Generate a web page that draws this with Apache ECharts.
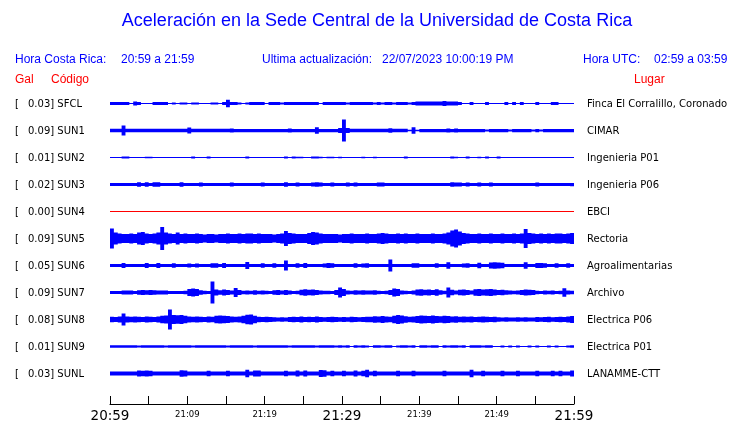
<!DOCTYPE html>
<html><head><meta charset="utf-8">
<script src="https://cdn.jsdelivr.net/npm/echarts@6/dist/echarts.min.js"></script>
<style>html,body{margin:0;padding:0;background:#fff}#c{width:740px;height:423px}</style>
</head><body><div id="c"></div>
<script>
// ---------- data ----------
const titleText = 'Aceleración en la Sede Central de la Universidad de Costa Rica';
const localRange = '20:59 a 21:59';
const utcRange = '02:59 a 03:59';
const lastUpdate = '22/07/2023 10:00:19 PM';

const stations = ['SFCL','SUN1','SUN2','SUN3','SUN4','SUN5','SUN6','SUN7','SUN8','SUN9','SUNL'];
const places = ['Finca El Corralillo, Coronado','CIMAR','Ingenieria P01','Ingenieria P06','EBCI','Rectoria','Agroalimentarias','Archivo','Electrica P06','Electrica P01','LANAMME-CTT'];
const peakGal = [0.03,0.09,0.01,0.02,0.00,0.09,0.05,0.09,0.08,0.01,0.03];
const inactiveStations = ['SUN4'];

// half-amplitude envelopes, milligal, one value per 30 s bin (120 bins = 60 min)
const binMinutes = 0.5;
const sfcl = [12,12,12,12,12, 4,16,12,4,4, 4,12,12,12,12, 4,8,4,8,8, 4,8,8,4,4, 4,8,8,4,12, 30,12,12,8,4, 8,12,12,12,12, 4,12,12,12,8, 12,12,12,12,12, 12,12,12,12,4, 12,12,12,12,12, 12,8,12,12,12, 12,12,12,8,12, 8,12,12,8,12, 12,12,8,12,16, 16,16,16,16,16, 16,20,16,16,16, 12,4,4,12,4, 4,4,12,4,4, 4,4,12,4,12, 4,12,4,4,4, 12,4,4,4,12, 12,4,4,4,4];
const sun1 = [14,14,14,40,14, 14,14,14,14,14, 14,14,14,14,14, 14,14,14,14,14, 24,14,14,14,14, 14,14,14,14,14, 14,16,13,13,13, 13,13,13,13,13, 13,13,13,13,13, 13,16,13,13,13, 13,13,13,26,13, 13,13,13,13,20, 88,20,14,14,14, 14,14,14,14,14, 14,14,18,14,14, 14,14,6,26,6, 13,13,13,13,13, 13,13,16,13,16, 13,13,13,13,13, 13,13,8,13,13, 13,13,13,8,13, 13,13,13,13,8, 13,8,13,13,13, 13,13,13,13,13];
const sun2 = [4,4,4,8,8, 4,4,4,4,6, 6,4,4,4,4, 4,4,4,4,4, 4,8,4,4,4, 8,4,4,4,4, 4,4,4,4,4, 8,4,4,4,4, 4,4,4,4,4, 8,4,8,6,6, 4,4,8,8,6, 4,6,6,4,6, 4,4,4,4,4, 6,4,4,6,4, 4,4,4,4,4, 4,8,4,4,4, 4,4,4,4,4, 4,4,4,8,6, 4,4,8,4,4, 6,4,8,4,4, 8,4,4,4,4, 4,4,4,4,4, 4,4,4,4,4, 4,4,4,4,4];
const sun3 = [12,12,12,12,12, 12,12,18,12,18, 12,18,18,12,12, 12,12,12,18,12, 12,12,12,16,12, 12,12,12,12,12, 12,16,12,12,12, 12,12,12,12,16, 12,12,12,12,12, 18,12,12,16,12, 12,12,16,18,16, 12,12,16,12,12, 12,16,12,16,12, 12,12,12,12,16, 16,12,12,12,12, 12,12,12,12,12, 12,12,12,12,12, 12,12,12,18,16, 16,12,16,12,12, 16,12,12,16,12, 12,12,12,12,12, 12,12,12,12,12, 16,12,12,12,12, 12,12,12,12,13];
const sun4 = [0,0,0,0,0,0,0,0,0,0, 0,0,0,0,0,0,0,0,0,0, 0,0,0,0,0,0,0,0,0,0, 0,0,0,0,0,0,0,0,0,0, 0,0,0,0,0,0,0,0,0,0, 0,0,0,0,0,0,0,0,0,0, 0,0,0,0,0,0,0,0,0,0, 0,0,0,0,0,0,0,0,0,0, 0,0,0,0,0,0,0,0,0,0, 0,0,0,0,0,0,0,0,0,0, 0,0,0,0,0,0,0,0,0,0, 0,0,0,0,0,0,0,0,0,0];
const sun5 = [80,48,40,36,36, 40,36,48,52,40, 36,40,48,92,48, 40,36,48,36,40, 36,36,40,36,32, 36,36,32,36,36, 40,36,36,40,36, 40,40,36,40,36, 36,36,32,36,40, 60,44,40,36,36, 36,44,52,48,40, 36,36,36,36,32, 36,36,40,36,36, 36,40,36,36,40, 44,40,36,36,40, 36,40,36,36,40, 36,36,36,40,36, 36,40,48,64,72, 56,44,40,36,36, 40,36,36,40,36, 36,40,36,36,40, 36,40,76,44,40, 36,40,36,40,36, 40,40,36,40,44];
const sun6 = [12,12,12,20,12, 12,12,12,12,20, 12,12,20,12,12, 12,18,12,12,12, 16,12,16,12,12, 12,18,18,12,20, 12,12,12,12,12, 28,12,12,12,18, 12,12,18,12,12, 40,12,12,18,12, 20,12,12,12,12, 16,20,18,12,12, 12,12,12,18,12, 16,18,12,12,12, 12,12,48,12,12, 12,12,12,18,18, 12,12,12,12,18, 12,12,26,12,12, 12,16,18,12,12, 22,12,12,24,26, 24,22,12,12,12, 12,12,26,12,12, 20,20,18,12,12, 18,12,12,18,12];
const sun7 = [12,12,12,16,16, 16,12,18,20,18, 20,18,16,16,16, 12,12,12,12,14, 28,32,28,18,14, 12,88,24,18,24, 20,16,36,20,14, 16,14,18,14,16, 14,12,18,20,16, 20,16,12,14,22, 26,22,24,20,16, 14,14,12,20,40, 28,16,14,18,16, 18,16,16,18,14, 12,14,20,32,28, 16,14,12,16,24, 26,22,24,20,26, 18,14,40,22,16, 22,24,20,16,26, 28,24,26,28,24, 20,22,18,16,14, 16,20,24,22,20, 14,12,16,14,16, 12,14,34,16,14];
const sun8 = [22,20,24,48,24, 22,24,22,20,24, 22,20,24,30,32, 80,36,34,36,30, 24,22,24,22,20, 24,22,30,32,30, 28,24,22,24,30, 38,40,30,22,20, 22,20,18,16,18, 16,20,22,20,24, 20,22,20,24,20, 18,20,22,20,18, 20,18,22,20,18, 20,22,22,26,24, 28,24,22,30,36, 32,26,22,24,28, 32,30,28,32,28, 26,30,28,24,26, 22,24,22,24,20, 22,24,22,20,22, 18,16,18,16,16, 18,16,18,16,16, 20,18,20,22,18, 20,22,20,24,28];
const sun9 = [10,10,10,10,10, 10,10,8,10,10, 10,10,10,10,8, 10,10,10,10,10, 10,8,10,10,10, 10,10,10,10,10, 8,10,10,10,10, 10,10,8,10,10, 10,10,10,10,10, 10,8,10,10,10, 10,10,10,8,10, 10,10,10,8,10, 8,10,4,10,8, 10,8,4,10,10, 8,10,10,4,8, 10,10,8,10,4, 10,10,8,10,10, 4,10,8,10,10, 8,10,4,10,10, 10,8,10,10,4, 4,8,4,8,4, 8,4,4,8,4, 8,4,4,8,4, 8,4,4,8,10];
const sunl = [16,16,16,16,16, 16,16,24,22,24, 22,16,16,16,16, 16,16,16,26,24, 16,16,16,16,16, 22,16,16,16,16, 22,16,16,16,16, 30,16,24,24,16, 16,16,16,16,16, 22,16,16,24,16, 24,16,16,16,28, 26,16,22,16,16, 22,16,16,24,16, 22,30,16,22,16, 16,16,16,16,22, 16,16,16,22,16, 16,16,16,16,16, 16,22,16,16,16, 16,16,16,30,16, 16,22,16,16,16, 16,22,16,16,16, 22,16,16,16,16, 22,16,16,16,22, 16,22,16,16,24];
const traces = [sfcl,sun1,sun2,sun3,sun4,sun5,sun6,sun7,sun8,sun9,sunl];

// time axis (minutes after 20:59)
const tickLabels = {0:'20:59',10:'21:09',20:'21:19',30:'21:29',40:'21:39',50:'21:49',60:'21:59'};
const majorTicks = [0,30,60];

// ---------- layout / style ----------
const BLUE = '#0000ff', RED = '#ff0000';
const ROW_TOP = 90, ROW_H = 27, PLOT_L = 110, PLOT_W = 464;
const AMP_RANGE = 108; // mGal per half row
const SANS = 'Liberation Sans', DJ = 'DejaVu Sans';

const grids = [], xAxes = [], yAxes = [], series = [], graphics = [];
traces.forEach((amp, i) => {
  grids.push({left: PLOT_L, width: PLOT_W, top: ROW_TOP + ROW_H * i, height: ROW_H});
  xAxes.push({type: 'value', gridIndex: i, min: 0, max: 60, show: false});
  yAxes.push({type: 'value', gridIndex: i, min: -AMP_RANGE, max: AMP_RANGE, show: false});
  const inactive = inactiveStations.includes(stations[i]);
  const col = inactive ? RED : BLUE;
  series.push({
    type: 'custom', xAxisIndex: i, yAxisIndex: i, silent: true, animation: false, clip: false,
    data: [[0, 0]],
    renderItem: (params, api) => {
      const top = [], bot = [];
      amp.forEach((a, k) => {
        const t0 = k * binMinutes, t1 = (k + 1) * binMinutes;
        top.push(api.coord([t0, a]), api.coord([t1, a]));
        bot.push(api.coord([t0, -a]), api.coord([t1, -a]));
      });
      const pts = top.concat(bot.reverse());
      const s = api.coord([0, 0]), e = api.coord([amp.length * binMinutes, 0]);
      return {type: 'group', children: [
        {type: 'polygon', shape: {points: pts}, style: {fill: col, stroke: null}},
        {type: 'line', shape: {x1: s[0], y1: s[1], x2: e[0], y2: e[1]}, style: {stroke: col, lineWidth: 1}}
      ]};
    }
  });
  const cy = ROW_TOP + ROW_H * i + ROW_H / 2 + 1;
  graphics.push({type: 'text', x: 15, y: cy, style: {text: '[', fontSize: 10, fontFamily: DJ, fill: '#000', verticalAlign: 'middle'}});
  graphics.push({type: 'text', x: 28, y: cy, style: {text: peakGal[i].toFixed(2) + '] ' + stations[i], fontSize: 10, fontFamily: DJ, fill: '#000', verticalAlign: 'middle'}});
  graphics.push({type: 'text', x: 587, y: cy, style: {text: places[i], fontSize: 10, fontFamily: DJ, fill: '#000', verticalAlign: 'middle'}});
});

// bottom time axis
const bi = traces.length;
grids.push({left: PLOT_L, width: PLOT_W, top: 398, height: 10});
xAxes.push({
  type: 'value', gridIndex: bi, min: 0, max: 60, interval: 5,
  axisLine: {show: true, lineStyle: {color: '#000', width: 1}},
  axisTick: {show: true, inside: true, length: 8, lineStyle: {color: '#000', width: 1}},
  splitLine: {show: false},
  axisLabel: {
    show: true, margin: 5, showMinLabel: true, showMaxLabel: true,
    formatter: v => {
      const l = tickLabels[v];
      if (l === undefined) return '';
      return majorTicks.includes(v) ? '{big|' + l + '}' : '{small|' + l + '}';
    },
    rich: {
      big: {fontSize: 13.5, fontFamily: DJ, color: '#000', lineHeight: 14},
      small: {fontSize: 8.5, fontFamily: DJ, color: '#000', lineHeight: 12}
    }
  }
});
yAxes.push({type: 'value', gridIndex: bi, show: false, min: 0, max: 1});
series.push({type: 'line', xAxisIndex: bi, yAxisIndex: bi, data: [], silent: true});

// header texts
const hdr = (text, x, y, size, fill, family, align) => ({type: 'text', x, y, style: {text, fontSize: size, fontFamily: family || SANS, fill, align: align || 'left', verticalAlign: 'middle'}});
graphics.push(hdr(titleText, 377, 21, 18, BLUE, SANS, 'center'));
graphics.push(hdr('Hora Costa Rica:', 15, 60, 12, BLUE));
graphics.push(hdr(localRange, 121, 60, 12, BLUE));
graphics.push(hdr('Ultima actualización:', 262, 60, 12, BLUE));
graphics.push(hdr(lastUpdate, 382, 60, 12, BLUE));
graphics.push(hdr('Hora UTC:', 583, 60, 12, BLUE));
graphics.push(hdr(utcRange, 654, 60, 12, BLUE));
graphics.push(hdr('Gal', 15, 80, 12, RED));
graphics.push(hdr('Código', 51, 80, 12, RED));
graphics.push(hdr('Lugar', 634, 80, 12, RED));

const chart = echarts.init(document.getElementById('c'), null, {renderer: 'canvas'});
chart.setOption({
  animation: false,
  backgroundColor: '#fff',
  grid: grids, xAxis: xAxes, yAxis: yAxes, series: series,
  graphic: graphics
});
</script>
</body></html>
